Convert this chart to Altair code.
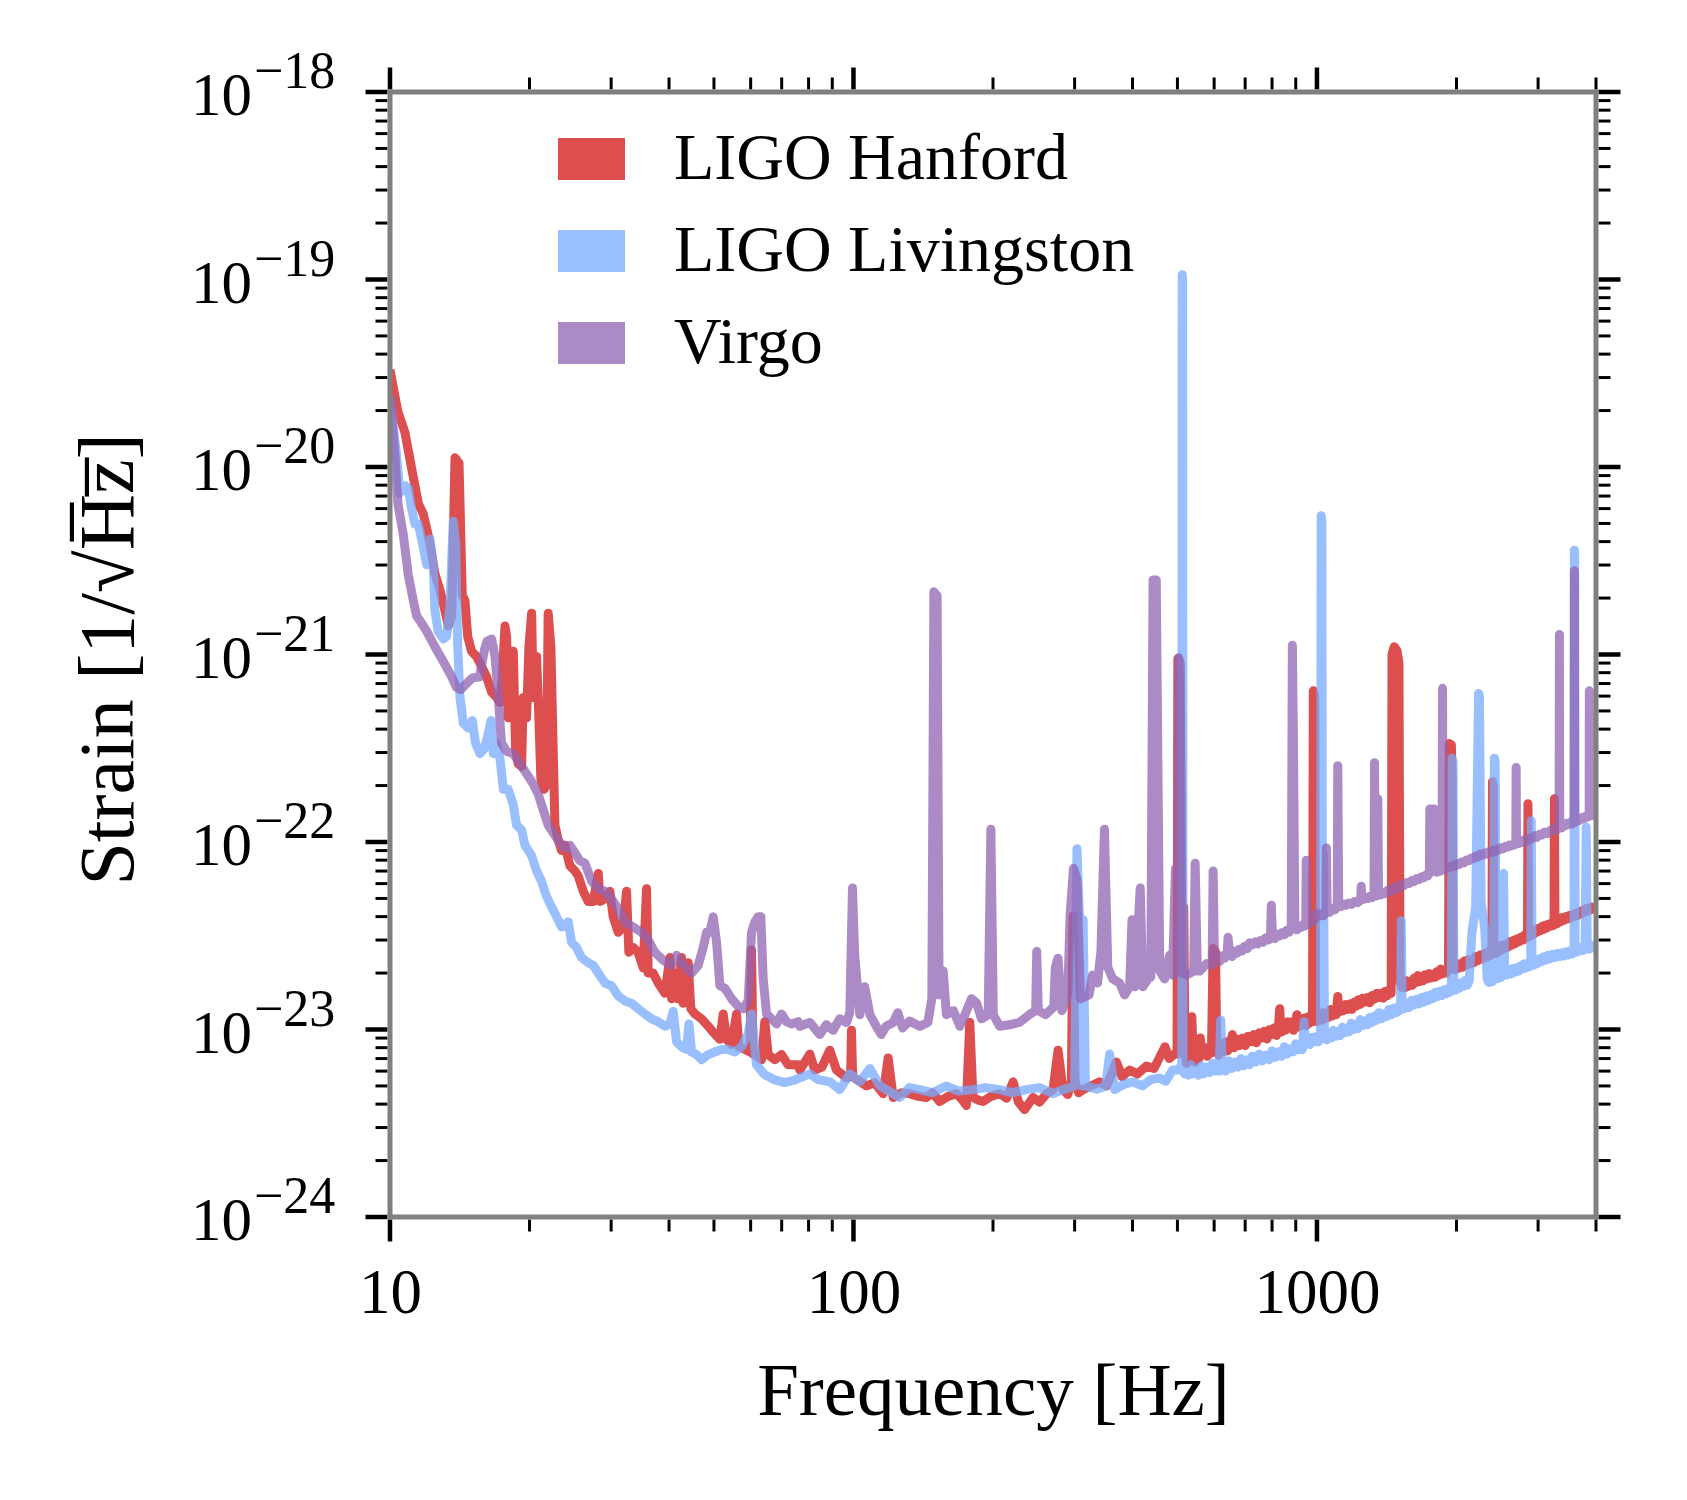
import altair as alt
import pandas as pd

FONT = "Liberation Serif"
W, H = 1206, 1125

SERIES = ["LIGO Hanford", "LIGO Livingston", "Virgo"]
COLORS = ["#d21414", "#77aaff", "#9063b3"]

HANFORD = [
    (10.0, 3.3e-20), (10.4, 1.97e-20), (10.77, 1.53e-20), (11.13, 9.9e-21), (11.51, 6.4e-21),
    (11.8, 5.6e-21), (12.0, 4.7e-21), (12.2, 3.9e-21), (12.5, 2.7e-21), (12.82, 2.2e-21),
    (13.14, 1.71e-21), (13.36, 1.42e-21), (13.59, 1.61e-21), (13.81, 1.12e-20), (14.09, 1.05e-20),
    (14.32, 2.07e-21), (14.51, 1.94e-21), (14.71, 1.25e-21), (15.0, 1.04e-21), (15.38, 9.75e-22),
    (15.77, 8.6e-22), (16.16, 7.6e-22), (16.57, 6.3e-22), (16.99, 5.9e-22), (17.27, 5.55e-22),
    (17.47, 7.6e-22), (17.7, 1.42e-21), (17.85, 1.25e-21), (17.99, 4.6e-22), (18.23, 1.04e-21),
    (18.45, 1.04e-21), (18.66, 3.15e-22), (18.91, 2.61e-22), (19.23, 2.53e-22), (19.38, 5.9e-22),
    (19.71, 4.6e-22), (19.94, 1.1e-21), (20.21, 1.66e-21), (20.37, 5.9e-22), (20.71, 9.75e-22),
    (20.88, 5.9e-22), (21.16, 2.17e-22), (21.51, 1.91e-22), (21.76, 2.04e-22), (21.94, 1.66e-21),
    (22.24, 1.1e-21), (22.69, 1.23e-22), (23.07, 1.02e-22), (23.46, 9.0e-23), (23.85, 9.6e-23),
    (24.44, 7.47e-23), (25.06, 7.02e-23), (25.47, 6.59e-23), (26.12, 5.46e-23), (26.77, 4.82e-23),
    (27.45, 4.82e-23), (28.14, 6.8e-23), (28.37, 4.82e-23), (29.09, 4.97e-23), (29.81, 5.46e-23),
    (30.31, 3.99e-23), (31.07, 3.3e-23), (31.85, 3.52e-23), (32.39, 5.46e-23), (32.76, 2.58e-23),
    (33.47, 2.74e-23), (34.31, 2.58e-23), (35.18, 2.13e-23), (35.77, 5.64e-23), (36.06, 2.0e-23),
    (36.96, 2.0e-23), (37.89, 1.77e-23), (39.19, 1.56e-23), (40.17, 2.42e-23), (40.51, 1.46e-23),
    (41.17, 2.0e-23), (41.73, 1.46e-23), (42.57, 2.42e-23), (42.91, 1.38e-23), (43.99, 2.27e-23),
    (44.58, 1.29e-23), (45.48, 1.21e-23), (47.02, 1.14e-23), (48.59, 1.04e-23), (50.23, 9.45e-24),
    (51.5, 8.87e-24), (52.35, 1.21e-23), (53.23, 8.87e-24), (54.57, 8.33e-24), (55.94, 1.21e-23),
    (56.58, 8.07e-24), (58.29, 7.83e-24), (59.8, 7.6e-24), (60.26, 2.66e-23), (60.7, 7.4e-24),
    (61.26, 7.35e-24), (63.33, 6.9e-24), (64.38, 1.1e-23), (65.44, 7.35e-24), (67.66, 6.9e-24),
    (69.94, 7.35e-24), (72.27, 6.48e-24), (75.95, 6.48e-24), (76.6, 6.08e-24), (80.5, 7.4e-24),
    (82.5, 6.08e-24), (85.5, 6.3e-24), (88.9, 7.76e-24), (91.9, 6.08e-24), (96.6, 5.52e-24),
    (98.6, 5.6e-24), (99.0, 9.9e-24), (99.6, 5.6e-24), (103.0, 5.3e-24), (106.7, 5.0e-24),
    (111.0, 5.2e-24), (115.9, 4.55e-24), (118.8, 7.05e-24), (121.8, 4.34e-24), (127.0, 4.6e-24),
    (132.2, 4.55e-24), (138.0, 4.4e-24), (143.7, 4.34e-24), (148.0, 4.6e-24), (153.5, 4.13e-24),
    (160.0, 4.4e-24), (166.8, 4.55e-24), (172.0, 4.2e-24), (175.2, 3.93e-24), (178.2, 1.09e-23),
    (181.1, 4.34e-24), (186.0, 4.2e-24), (190.4, 4.13e-24), (198.0, 4.4e-24), (206.8, 4.55e-24),
    (214.0, 4.3e-24), (221.0, 5.26e-24), (227.0, 4.1e-24), (234.0, 3.74e-24), (244.0, 4.34e-24),
    (252.0, 4.1e-24), (260.0, 4.5e-24), (269.5, 4.78e-24), (276.3, 7.76e-24), (283.2, 4.78e-24),
    (290.0, 4.5e-24), (295.2, 5.26e-24), (297.7, 4.04e-23), (300.6, 5.26e-24), (306.0, 4.6e-24),
    (312.8, 4.78e-24), (325.0, 5.0e-24), (339.8, 5.26e-24), (352.0, 5.0e-24), (369.1, 6.71e-24),
    (380.0, 5.6e-24), (394.3, 6.08e-24), (410.0, 5.8e-24), (428.3, 6.38e-24), (445.0, 6.2e-24),
    (461.5, 7.4e-24), (470.0, 8.1e-24), (480.0, 7.0e-24), (493.2, 7.4e-24), (499.0, 7.4e-24),
    (501.0, 9.5e-22), (505.0, 7.6e-22), (509.0, 7.5e-24), (516.0, 4.5e-23), (519.0, 7.5e-24),
    (523, 6.6e-24), (528, 7.4e-24), (532, 6.8e-24), (537, 1.17e-23), (541, 7.2e-24), (546, 6.7e-24),
    (552, 7.8e-24), (556, 7.0e-24), (560, 9.0e-24), (566, 7.3e-24), (573, 8.0e-24), (580, 7.2e-24),
    (586, 8.1e-24), (592, 7.5e-24), (597, 2.7e-23), (604, 2.6e-23), (608, 8.0e-24), (614, 7.3e-24),
    (620, 8.2e-24), (627, 7.6e-24), (635, 8.6e-24), (642, 7.7e-24), (650, 8.4e-24), (657, 9.4e-24),
    (663, 8.0e-24), (671, 8.9e-24), (680, 8.2e-24), (690, 9.0e-24), (700, 8.2e-24), (710, 9.2e-24),
    (720, 8.6e-24), (730, 9.4e-24), (740, 8.5e-24), (750, 9.6e-24), (760, 9.0e-24), (770, 9.8e-24),
    (780, 8.9e-24), (790, 1.0e-23), (800, 9.4e-24), (809, 1.02e-23), (818, 9.3e-24), (825, 1.0e-23),
    (831, 1.29e-23), (837, 9.7e-24), (846, 1.07e-23), (855, 9.9e-24), (865, 1.1e-23), (875, 1.02e-23),
    (883, 1.1e-23), (890, 9.9e-24), (898, 1.08e-23), (905, 1.2e-23), (912, 1.03e-23), (921, 1.13e-23),
    (930, 1.06e-23), (940, 1.15e-23), (950, 1.05e-23), (958, 1.17e-23), (965, 1.08e-23),
    (972, 1.16e-23), (978, 1.1e-23), (982, 6.4e-22), (989, 6.0e-22), (993, 1.15e-23), (1000, 1.1e-23),
    (1010, 1.2e-23), (1020, 1.12e-23), (1030, 1.23e-23), (1040, 1.14e-23), (1050, 1.22e-23),
    (1060, 1.16e-23), (1070, 1.28e-23), (1080, 1.18e-23), (1090, 1.27e-23), (1100, 1.2e-23),
    (1109, 1.5e-23), (1116, 1.24e-23), (1128, 1.33e-23), (1140, 1.26e-23), (1152, 1.36e-23),
    (1165, 1.28e-23), (1178, 1.37e-23), (1190, 1.28e-23), (1203, 1.4e-23), (1215, 1.33e-23),
    (1228, 1.44e-23), (1240, 1.36e-23), (1255, 1.47e-23), (1270, 1.4e-23), (1285, 1.48e-23),
    (1300, 1.39e-23), (1315, 1.52e-23), (1330, 1.45e-23), (1345, 1.56e-23), (1360, 1.48e-23),
    (1375, 1.56e-23), (1390, 1.47e-23), (1405, 1.6e-23), (1420, 1.52e-23), (1433, 1.63e-23),
    (1446, 1.56e-23), (1452, 1.0e-21), (1468, 1.1e-21), (1488, 1.05e-21), (1503, 9.0e-22),
    (1511, 1.8e-23), (1523, 1.68e-23), (1535, 1.77e-23), (1548, 1.67e-23), (1560, 1.82e-23),
    (1575, 1.7e-23), (1590, 1.8e-23), (1605, 1.72e-23), (1620, 1.88e-23), (1635, 1.78e-23),
    (1650, 1.94e-23), (1665, 1.8e-23), (1680, 1.9e-23), (1695, 1.82e-23), (1710, 1.96e-23),
    (1728, 1.86e-23), (1745, 1.99e-23), (1762, 1.88e-23), (1780, 1.97e-23), (1798, 1.9e-23),
    (1815, 2.04e-23), (1832, 1.95e-23), (1850, 2.1e-23), (1868, 1.98e-23), (1885, 2.06e-23),
    (1903, 2.0e-23), (1922, 2.12e-23), (1930, 3.35e-22), (1950, 3.3e-22), (1958, 2.2e-22),
    (1966, 2.15e-23), (1983, 2.08e-23), (2000, 2.22e-23), (2020, 2.12e-23), (2040, 2.25e-23),
    (2060, 2.15e-23), (2080, 2.32e-23), (2100, 2.2e-23), (2120, 2.36e-23), (2140, 2.24e-23),
    (2160, 2.34e-23), (2180, 2.27e-23), (2200, 2.45e-23), (2225, 2.33e-23), (2250, 2.5e-23),
    (2275, 2.38e-23), (2300, 2.55e-23), (2322, 2.43e-23), (2345, 2.6e-23), (2365, 2.48e-23),
    (2385, 2.62e-23), (2392, 2.1e-22), (2402, 2.0e-22), (2410, 2.65e-23), (2435, 2.55e-23),
    (2460, 2.74e-23), (2485, 2.63e-23), (2510, 2.82e-23), (2535, 2.7e-23), (2560, 2.85e-23),
    (2585, 2.75e-23), (2610, 2.95e-23), (2635, 2.82e-23), (2660, 3.0e-23), (2685, 2.88e-23),
    (2710, 3.05e-23), (2735, 2.95e-23), (2760, 3.12e-23), (2785, 3.0e-23), (2810, 3.2e-23),
    (2828, 3.08e-23), (2846, 3.22e-23), (2853, 1.6e-22), (2862, 3.25e-23), (2885, 3.15e-23),
    (2910, 3.35e-23), (2935, 3.22e-23), (2960, 3.4e-23), (2985, 3.3e-23), (3010, 3.47e-23),
    (3035, 3.36e-23), (3060, 3.55e-23), (3085, 3.42e-23), (3110, 3.6e-23), (3135, 3.48e-23),
    (3160, 3.65e-23), (3185, 3.55e-23), (3210, 3.7e-23), (3230, 3.58e-23), (3247, 3.72e-23),
    (3254, 1.7e-22), (3262, 3.75e-23), (3290, 3.65e-23), (3320, 3.86e-23), (3350, 3.75e-23),
    (3380, 3.95e-23), (3410, 3.82e-23), (3440, 4.0e-23), (3470, 3.88e-23), (3500, 4.05e-23),
    (3530, 3.94e-23), (3560, 4.1e-23), (3590, 4.0e-23), (3620, 4.17e-23), (3650, 4.06e-23),
    (3680, 4.25e-23), (3710, 4.14e-23), (3740, 4.32e-23), (3770, 4.22e-23), (3800, 4.4e-23),
    (3830, 4.28e-23), (3860, 4.45e-23), (3890, 4.34e-23), (3920, 4.5e-23), (3960, 4.4e-23),
    (4000, 4.55e-23),
]

LIVINGSTON = [
    (10.0, 2.3e-20), (10.32, 1.19e-20), (10.5, 7.24e-21), (10.77, 7.96e-21), (10.95, 7.71e-21),
    (11.13, 6.0e-21), (11.32, 4.97e-21), (11.51, 4.97e-21), (11.7, 4.12e-21), (12.0, 3.01e-21),
    (12.2, 4.12e-21), (12.4, 3.01e-21), (12.5, 1.71e-21), (12.7, 1.33e-21), (13.04, 1.21e-21),
    (13.25, 1.25e-21), (13.47, 1.82e-21), (13.69, 5.13e-21), (13.86, 3.87e-21), (14.0, 1.1e-21),
    (14.16, 5.9e-22), (14.39, 4.31e-22), (14.75, 4.05e-22), (15.05, 4.45e-22), (15.3, 3.36e-22),
    (15.64, 2.96e-22), (15.98, 3.15e-22), (16.3, 3.81e-22), (16.52, 4.45e-22), (16.71, 2.96e-22),
    (16.99, 3.36e-22), (17.27, 2.78e-22), (17.56, 1.91e-22), (17.99, 1.91e-22), (18.45, 1.58e-22),
    (18.75, 1.23e-22), (19.23, 1.16e-22), (19.55, 9.6e-23), (20.21, 8.46e-23), (20.71, 7.02e-23),
    (21.22, 6.19e-23), (21.76, 5.13e-23), (22.3, 4.53e-23), (22.88, 3.99e-23), (23.46, 3.52e-23),
    (24.24, 3.75e-23), (24.65, 2.92e-23), (25.26, 2.74e-23), (25.9, 2.42e-23), (26.77, 2.27e-23),
    (27.45, 2.2e-23), (28.14, 2.0e-23), (29.09, 1.77e-23), (30.06, 1.71e-23), (31.07, 1.51e-23),
    (32.12, 1.42e-23), (33.2, 1.38e-23), (34.31, 1.29e-23), (35.47, 1.21e-23), (36.67, 1.14e-23),
    (37.89, 1.1e-23), (39.19, 1.04e-23), (40.17, 1.07e-23), (40.83, 1.25e-23), (41.53, 8.6e-24),
    (42.57, 8.07e-24), (43.64, 7.83e-24), (44.15, 1.07e-23), (44.74, 7.59e-24), (45.86, 7.35e-24),
    (47.02, 6.9e-24), (48.59, 7.35e-24), (50.23, 7.59e-24), (51.9, 7.83e-24), (53.66, 7.83e-24),
    (55.47, 7.59e-24), (57.35, 8.07e-24), (59.26, 9.45e-24), (60.26, 1.21e-23), (61.77, 6.48e-24),
    (64.38, 5.73e-24), (67.66, 5.38e-24), (71.1, 5.21e-24), (74.7, 5.38e-24), (76.6, 5.52e-24),
    (80.5, 5.8e-24), (84.0, 5.4e-24), (88.9, 5.26e-24), (93.4, 4.78e-24), (98.2, 5.8e-24),
    (103.2, 5.26e-24), (108.5, 6.2e-24), (114.0, 5.0e-24), (119.0, 4.7e-24), (125.9, 4.34e-24),
    (132.0, 4.9e-24), (139.0, 4.78e-24), (148.0, 4.6e-24), (158.5, 5.0e-24), (168.0, 4.7e-24),
    (181.0, 4.78e-24), (193.0, 4.9e-24), (206.8, 4.78e-24), (220.0, 4.6e-24), (236.0, 4.78e-24),
    (252.0, 4.9e-24), (269.5, 4.55e-24), (285.0, 4.8e-24), (300.0, 5.0e-24), (303.5, 9.2e-23),
    (307.5, 3.85e-23), (311.0, 5.0e-24), (313.0, 3.85e-23), (316.5, 5.0e-24), (335.0, 4.8e-24),
    (350.0, 5.0e-24), (357.0, 7.4e-24), (366.0, 4.78e-24), (383.0, 5.1e-24), (401.0, 5.26e-24),
    (420.0, 5.0e-24), (438.0, 5.4e-24), (457.0, 5.52e-24), (472.0, 5.3e-24), (488.0, 6.08e-24),
    (502.0, 6.08e-24), (511.0, 6.5e-24), (512.0, 1.06e-19), (513.0, 1.0e-19), (514.0, 6.5e-24),
    (518, 5.8e-24), (522, 6.4e-24), (528, 5.7e-24), (535, 6.5e-24), (541, 5.8e-24), (548, 6.2e-24),
    (555, 5.7e-24), (562, 6.4e-24), (570, 5.8e-24), (578, 6.3e-24), (586, 5.9e-24), (595, 6.6e-24),
    (602, 6.0e-24), (610, 6.5e-24), (615, 6.0e-24), (620, 1.12e-23), (625, 6.4e-24), (635, 6.0e-24),
    (645, 6.8e-24), (655, 6.2e-24), (665, 6.7e-24), (675, 6.3e-24), (685, 7.0e-24), (695, 6.4e-24),
    (705, 6.9e-24), (715, 6.5e-24), (725, 7.2e-24), (738, 6.7e-24), (750, 7.4e-24), (762, 6.8e-24),
    (775, 7.3e-24), (788, 6.9e-24), (800, 7.7e-24), (812, 7.1e-24), (825, 7.6e-24), (838, 7.2e-24),
    (850, 8.1e-24), (862, 7.4e-24), (875, 7.9e-24), (888, 7.6e-24), (900, 8.4e-24), (910, 7.8e-24),
    (920, 8.3e-24), (930, 7.8e-24), (938, 1.1e-23), (945, 8.3e-24), (955, 8.9e-24), (965, 8.3e-24),
    (978, 9.1e-24), (990, 8.6e-24), (1000, 9.2e-24), (1008, 8.6e-24), (1018, 9.2e-24),
    (1021, 5.5e-21), (1025, 5.2e-21), (1028, 9.3e-24), (1033, 8.5e-23), (1038, 9.2e-24),
    (1049, 8.8e-24), (1060, 9.6e-24), (1072, 9.0e-24), (1085, 9.9e-24), (1098, 9.2e-24),
    (1110, 9.8e-24), (1122, 9.3e-24), (1135, 1.03e-23), (1148, 9.6e-24), (1160, 1.01e-23),
    (1172, 9.7e-24), (1185, 1.08e-23), (1198, 1.0e-23), (1210, 1.06e-23), (1225, 1.01e-23),
    (1240, 1.13e-23), (1255, 1.05e-23), (1270, 1.11e-23), (1285, 1.06e-23), (1300, 1.16e-23),
    (1315, 1.09e-23), (1330, 1.18e-23), (1345, 1.12e-23), (1360, 1.23e-23), (1378, 1.14e-23),
    (1395, 1.21e-23), (1412, 1.17e-23), (1430, 1.28e-23), (1448, 1.2e-23), (1465, 1.3e-23),
    (1482, 1.23e-23), (1500, 1.33e-23), (1508, 1.26e-23), (1515, 1.32e-23), (1520, 3.8e-23),
    (1527, 1.35e-23), (1543, 1.29e-23), (1560, 1.39e-23), (1580, 1.31e-23), (1600, 1.43e-23),
    (1620, 1.35e-23), (1640, 1.45e-23), (1660, 1.37e-23), (1680, 1.48e-23), (1700, 1.4e-23),
    (1720, 1.51e-23), (1740, 1.43e-23), (1760, 1.53e-23), (1780, 1.46e-23), (1800, 1.58e-23),
    (1820, 1.5e-23), (1840, 1.6e-23), (1860, 1.52e-23), (1880, 1.63e-23), (1900, 1.55e-23),
    (1920, 1.66e-23), (1935, 1.58e-23), (1950, 1.65e-23), (1956, 2.8e-22), (1966, 2.7e-22),
    (1974, 1.7e-23), (1992, 1.62e-23), (2010, 1.75e-23), (2030, 1.66e-23), (2050, 1.78e-23),
    (2070, 1.7e-23), (2090, 1.83e-23), (2110, 1.72e-23), (2130, 1.82e-23), (2160, 3.3e-23),
    (2200, 4.5e-23), (2232, 6.2e-22), (2242, 6.0e-22), (2260, 4.8e-23), (2300, 3.5e-23),
    (2330, 1.85e-23), (2350, 1.78e-23), (2370, 1.9e-23), (2390, 1.8e-23), (2408, 1.92e-23),
    (2414, 2.8e-22), (2424, 2.7e-22), (2432, 1.95e-23), (2456, 1.87e-23), (2480, 2.01e-23),
    (2500, 1.9e-23), (2520, 2.02e-23), (2527, 6.8e-23), (2540, 2.0e-23), (2570, 1.95e-23),
    (2600, 2.09e-23), (2625, 1.98e-23), (2650, 2.12e-23), (2675, 2.02e-23), (2700, 2.14e-23),
    (2725, 2.05e-23), (2750, 2.19e-23), (2775, 2.1e-23), (2800, 2.24e-23), (2825, 2.13e-23),
    (2850, 2.26e-23), (2872, 2.16e-23), (2893, 2.26e-23), (2900, 1.3e-22), (2910, 2.3e-23),
    (2935, 2.2e-23), (2960, 2.36e-23), (2990, 2.25e-23), (3020, 2.39e-23), (3050, 2.3e-23),
    (3080, 2.44e-23), (3115, 2.34e-23), (3150, 2.49e-23), (3185, 2.38e-23), (3220, 2.52e-23),
    (3260, 2.42e-23), (3300, 2.55e-23), (3340, 2.45e-23), (3380, 2.57e-23), (3415, 2.47e-23),
    (3450, 2.6e-23), (3485, 2.5e-23), (3520, 2.63e-23), (3553, 2.53e-23), (3586, 2.62e-23),
    (3592, 3.6e-21), (3598, 3.4e-21), (3605, 2.65e-23), (3632, 2.58e-23), (3660, 2.72e-23),
    (3690, 2.62e-23), (3720, 2.75e-23), (3755, 2.64e-23), (3790, 2.76e-23), (3810, 1.2e-22),
    (3830, 2.75e-23), (3865, 2.68e-23), (3900, 2.82e-23), (3950, 2.72e-23), (4000, 2.85e-23),
]

VIRGO = [
    (10.0, 2.4e-20), (10.24, 1.19e-20), (10.4, 6.38e-21), (10.68, 4.38e-21), (10.95, 2.66e-21),
    (11.23, 1.94e-21), (11.41, 1.61e-21), (11.7, 1.47e-21), (12.0, 1.33e-21), (12.5, 1.1e-21),
    (13.04, 9.16e-22), (13.59, 7.6e-22), (13.9, 6.7e-22), (14.2, 6.49e-22), (14.55, 6.91e-22),
    (15.05, 7.5e-22), (15.6, 7.6e-22), (16.0, 1.07e-21), (16.2, 1.18e-21), (16.57, 1.21e-21),
    (16.85, 9.75e-22), (17.13, 5.9e-22), (17.4, 3.36e-22), (17.85, 3.05e-22), (18.45, 2.96e-22),
    (19.07, 2.61e-22), (19.71, 2.31e-22), (20.37, 2.04e-22), (20.88, 1.8e-22), (21.4, 1.49e-22),
    (21.94, 1.23e-22), (22.5, 1.12e-22), (23.07, 1.02e-22), (23.85, 9.3e-23), (24.44, 9.6e-23),
    (25.06, 8.73e-23), (25.69, 7.95e-23), (26.34, 7.7e-23), (27.23, 6.19e-23), (28.14, 5.64e-23),
    (29.09, 5.46e-23), (30.06, 4.97e-23), (31.07, 4.39e-23), (32.12, 3.75e-23), (33.47, 3.52e-23),
    (34.89, 3.3e-23), (36.06, 3.01e-23), (37.27, 2.58e-23), (38.86, 2.34e-23), (40.51, 2.2e-23),
    (41.53, 2.49e-23), (42.57, 2.27e-23), (43.64, 2.13e-23), (44.74, 2.0e-23), (46.24, 2.2e-23),
    (47.4, 2.74e-23), (48.2, 3.3e-23), (49.0, 3.3e-23), (49.81, 3.99e-23), (50.66, 2.92e-23),
    (51.5, 1.71e-23), (52.79, 1.66e-23), (54.57, 1.46e-23), (56.38, 1.33e-23), (57.8, 1.29e-23),
    (59.26, 1.42e-23), (60.26, 3.3e-23), (61.26, 3.75e-23), (62.27, 3.99e-23), (63.11, 3.99e-23),
    (63.84, 1.88e-23), (64.93, 1.21e-23), (66.56, 1.14e-23), (68.22, 1.07e-23), (69.94, 1.21e-23),
    (71.7, 1.1e-23), (73.5, 1.07e-23), (75.95, 1.1e-23),
    (76.6, 1.04e-23), (80.5, 1.09e-23), (84.6, 9.4e-24), (87.4, 1.06e-23), (90.4, 9.9e-24),
    (93.4, 1.14e-23), (96.6, 1.09e-23), (98.2, 1.23e-23), (99.5, 5.68e-23), (100.6, 2.49e-23),
    (103.2, 1.2e-23), (105.7, 1.69e-23), (108.5, 1.2e-23), (112.0, 1.04e-23), (114.8, 9.4e-24),
    (117.6, 1.04e-23), (121.8, 1.09e-23), (124.6, 1.23e-23), (127.6, 1.02e-23), (132.2, 1.11e-23),
    (138.9, 1.04e-23), (144.7, 1.09e-23), (147.6, 1.46e-23), (149.1, 2.16e-21), (151.5, 2.06e-21),
    (153.0, 1.53e-23), (156.1, 2.05e-23), (158.7, 1.2e-23), (164.3, 1.26e-23), (169.7, 1.04e-23),
    (174.0, 1.2e-23), (179.7, 1.46e-23), (184.2, 1.39e-23), (188.9, 1.14e-23), (195.3, 1.2e-23),
    (197.9, 1.17e-22), (200.3, 1.2e-23), (206.8, 1.04e-23), (217.0, 1.06e-23), (228.0, 1.09e-23),
    (239.4, 1.2e-23), (247.3, 1.26e-23), (248.5, 2.61e-23), (250.5, 1.26e-23), (259.6, 1.2e-23),
    (270.5, 1.32e-23), (272.6, 2.15e-23), (276.2, 2.4e-23), (281.6, 1.26e-23), (290.0, 1.53e-23),
    (293.3, 4.04e-23), (298.3, 7.24e-23), (303.5, 6.3e-23), (308.8, 1.46e-23), (322.3, 1.53e-23),
    (328.0, 1.95e-23), (336.2, 1.77e-23), (341.9, 2.61e-23), (347.9, 1.17e-22), (353.7, 2.15e-23),
    (362.7, 1.86e-23), (375.2, 1.77e-23), (384.7, 1.53e-23), (394.3, 1.69e-23), (399.0, 3.85e-23),
    (404.4, 1.69e-23), (415.6, 5.68e-23), (421.0, 1.69e-23), (431.7, 1.86e-23), (438.0, 1.9e-23),
    (443.0, 2.5e-21), (450.0, 2.5e-21), (458.0, 2.05e-23), (469.0, 1.86e-23), (481.0, 2.49e-23),
    (488.0, 1.95e-23), (495.0, 7.2e-23), (500.0, 2.0e-23), (503.0, 9.6e-22), (507.0, 9.0e-22),
    (512.0, 2.0e-23), (523.0, 1.95e-23), (542.0, 2.05e-23), (546.0, 7.7e-23), (552.0, 2.05e-23),
    (559.0, 2.05e-23), (578.0, 2.25e-23), (594.0, 2.2e-23), (597.0, 7.0e-23), (601.0, 2.3e-23),
    (607, 2.37e-23), (616, 2.3e-23), (625, 2.47e-23), (632, 2.4e-23), (640, 2.52e-23),
    (643, 3.1e-23), (648, 2.5e-23), (656, 2.45e-23), (665, 2.62e-23), (672, 2.55e-23),
    (680, 2.68e-23), (689, 2.62e-23), (698, 2.78e-23), (707, 2.7e-23), (716, 2.9e-23),
    (725, 2.82e-23), (735, 2.93e-23), (745, 2.86e-23), (755, 2.98e-23), (765, 2.92e-23),
    (775, 3.08e-23), (785, 3.0e-23), (794, 3.12e-23), (797, 4.6e-23), (802, 3.1e-23),
    (811, 3.05e-23), (820, 3.22e-23), (830, 3.15e-23), (840, 3.28e-23), (850, 3.2e-23),
    (860, 3.38e-23), (870, 3.3e-23), (880, 3.42e-23), (885, 1.12e-21), (890, 3.3e-22),
    (896, 3.45e-23), (905, 3.4e-23), (915, 3.58e-23), (924, 3.5e-23), (932, 3.62e-23),
    (940, 3.56e-23), (946, 3.66e-23), (948, 8.0e-23), (952, 3.7e-23), (961, 3.65e-23),
    (970, 3.88e-23), (983, 3.8e-23), (996, 4.15e-23), (1008, 4.0e-23), (1020, 4.12e-23),
    (1033, 4.05e-23), (1045, 4.22e-23), (1048, 9.3e-23), (1052, 4.3e-23), (1066, 4.22e-23),
    (1080, 4.42e-23), (1093, 4.35e-23), (1106, 4.5e-23), (1109, 2.55e-22), (1114, 4.6e-23),
    (1127, 4.52e-23), (1140, 4.68e-23), (1155, 4.6e-23), (1170, 4.72e-23), (1188, 4.65e-23),
    (1205, 4.82e-23), (1224, 4.75e-23), (1243, 4.92e-23), (1246, 5.8e-23), (1250, 5.0e-23),
    (1262, 4.95e-23), (1275, 5.08e-23), (1288, 5.0e-23), (1300, 5.13e-23), (1314, 5.05e-23),
    (1328, 5.22e-23), (1331, 2.65e-22), (1336, 5.2e-23), (1343, 5.15e-23), (1350, 5.26e-23),
    (1353, 1.7e-22), (1358, 5.3e-23), (1372, 5.22e-23), (1387, 5.38e-23), (1403, 5.3e-23),
    (1420, 5.52e-23), (1435, 5.45e-23), (1450, 5.62e-23), (1468, 5.55e-23), (1485, 5.78e-23),
    (1502, 5.7e-23), (1520, 5.92e-23), (1540, 5.85e-23), (1560, 6.08e-23), (1580, 6.0e-23),
    (1600, 6.22e-23), (1620, 6.15e-23), (1640, 6.38e-23), (1660, 6.3e-23), (1680, 6.52e-23),
    (1700, 6.45e-23), (1720, 6.68e-23), (1734, 6.6e-23), (1748, 6.8e-23), (1752, 1.5e-22),
    (1790, 1.5e-22), (1795, 7.0e-23), (1812, 6.9e-23), (1830, 7.05e-23), (1846, 6.98e-23),
    (1862, 7.12e-23), (1866, 6.6e-22), (1872, 7.2e-23), (1886, 7.12e-23), (1900, 7.32e-23),
    (1915, 7.25e-23), (1930, 7.42e-23), (1950, 7.35e-23), (1970, 7.52e-23), (1990, 7.45e-23),
    (2010, 7.68e-23), (2030, 7.6e-23), (2050, 7.82e-23), (2075, 7.75e-23), (2100, 8.02e-23),
    (2125, 7.95e-23), (2150, 8.22e-23), (2175, 8.15e-23), (2200, 8.42e-23), (2225, 8.33e-23),
    (2250, 8.62e-23), (2275, 8.5e-23), (2300, 8.72e-23), (2325, 8.62e-23), (2350, 8.88e-23),
    (2375, 8.8e-23), (2400, 9.02e-23), (2425, 8.92e-23), (2450, 9.18e-23), (2475, 9.08e-23),
    (2500, 9.32e-23), (2525, 9.22e-23), (2550, 9.48e-23), (2575, 9.38e-23), (2600, 9.62e-23),
    (2625, 9.52e-23), (2650, 9.72e-23), (2668, 9.65e-23), (2686, 9.82e-23), (2690, 2.5e-22),
    (2695, 9.9e-23), (2722, 9.8e-23), (2750, 1.01e-22), (2775, 9.95e-23), (2800, 1.03e-22),
    (2835, 1.01e-22), (2870, 1.05e-22), (2910, 1.04e-22), (2950, 1.08e-22), (2985, 1.06e-22),
    (3020, 1.1e-22), (3060, 1.09e-22), (3100, 1.13e-22), (3140, 1.11e-22), (3180, 1.15e-22),
    (3215, 1.14e-22), (3250, 1.18e-22), (3290, 1.16e-22), (3330, 1.2e-22), (3335, 1.28e-21),
    (3341, 1.2e-22), (3370, 1.19e-22), (3400, 1.24e-22), (3430, 1.22e-22), (3460, 1.26e-22),
    (3490, 1.24e-22), (3520, 1.27e-22), (3555, 1.25e-22), (3588, 1.29e-22), (3593, 2.8e-21),
    (3599, 1.3e-22), (3625, 1.28e-22), (3650, 1.32e-22), (3675, 1.3e-22), (3700, 1.34e-22),
    (3730, 1.32e-22), (3760, 1.36e-22), (3790, 1.34e-22), (3820, 1.38e-22), (3843, 1.36e-22),
    (3866, 1.39e-22), (3870, 6.4e-22), (3876, 1.4e-22), (3905, 1.38e-22), (3940, 1.42e-22),
    (3970, 1.4e-22), (4000, 1.43e-22),
]

X_MAJOR = [10, 100, 1000]
X_MINOR = [20, 30, 40, 50, 60, 70, 80, 90, 200, 300, 400, 500, 600, 700, 800, 900, 2000, 3000, 4000]
Y_MAJOR = [1e-18, 1e-19, 1e-20, 1e-21, 1e-22, 1e-23, 1e-24]
Y_EXP = ["\u221218", "\u221219", "\u221220", "\u221221", "\u221222", "\u221223", "\u221224"]
Y_MINOR = [k * 10.0 ** e for e in range(-24, -18) for k in range(2, 10)]

rows = []
for name, pts in zip(SERIES, [HANFORD, LIVINGSTON, VIRGO]):
    for f, a in pts:
        rows.append({"series": name, "freq": f, "asd": a})
df = pd.DataFrame(rows)

xscale = alt.Scale(type="log", domain=[10, 4000], nice=False)
yscale = alt.Scale(type="log", domain=[1e-24, 1e-18], nice=False)

xaxis = alt.Axis(values=X_MAJOR, format="d", labelFont=FONT, labelFontSize=63, labelColor="black",
                 labelPadding=95, labelBaseline="alphabetic", labelFlush=False, labelOverlap=False,
                 ticks=False, tickSize=0, domain=False, grid=False,
                 title="Frequency [Hz]", titleFont=FONT, titleFontSize=75, titleFontWeight="normal",
                 titleColor="black", titleY=197, titleBaseline="alphabetic")
yaxis = alt.Axis(labels=False, ticks=False, tickSize=0, domain=False, grid=False,
                 title="Strain [1/\u221aH\u0305z\u0305]", titleFont=FONT, titleFontSize=78,
                 titleFontWeight="normal", titleColor="black", titleAngle=270, titleX=-258,
                 titleY=567, titleBaseline="alphabetic", titleAlign="center")

X = lambda: alt.X("freq:Q", scale=xscale, axis=xaxis)
Y = lambda: alt.Y("asd:Q", scale=yscale, axis=yaxis)

lines = alt.Chart(df).mark_line(strokeWidth=9, opacity=0.75, strokeJoin="round", clip=True).encode(
    x=X(), y=Y(),
    color=alt.Color("series:N", scale=alt.Scale(domain=SERIES, range=COLORS),
                    legend=alt.Legend(orient="none", legendX=147, legendY=35, title=None,
                                      labelFont=FONT, labelFontSize=66, labelColor="black",
                                      symbolType="stroke", symbolSize=4489, symbolStrokeWidth=42,
                                      symbolOpacity=0.75, labelOffset=28, rowPadding=26, padding=0,
                                      clipHeight=64, labelLimit=0)),
)

xt_major = pd.DataFrame({"freq": X_MAJOR})
xt_minor = pd.DataFrame({"freq": X_MINOR})
yt_major = pd.DataFrame({"asd": Y_MAJOR})
yt_minor = pd.DataFrame({"asd": Y_MINOR})


def xticks(data, length, width):
    out = []
    for y0, y1 in [(H + 2.5, H + 2.5 + length), (-2.5, -2.5 - length)]:
        out.append(alt.Chart(data).mark_rule(color="black", strokeWidth=width).encode(
            x=X(), y=alt.value(y0), y2=alt.value(y1)))
    return out


def yticks(data, length, width):
    out = []
    for x0, x1 in [(-2.5, -2.5 - length), (W + 2.5, W + 2.5 + length)]:
        out.append(alt.Chart(data).mark_rule(color="black", strokeWidth=width).encode(
            y=Y(), x=alt.value(x0), x2=alt.value(x1)))
    return out


ticks = xticks(xt_major, 22, 4.5) + xticks(xt_minor, 12, 3) + yticks(yt_major, 22, 4.5) + yticks(yt_minor, 12, 3)

ylab_df = pd.DataFrame({"asd": Y_MAJOR, "base": ["10"] * len(Y_MAJOR), "exp": Y_EXP})
ylab_base = alt.Chart(ylab_df).mark_text(font=FONT, fontSize=61, align="right", baseline="alphabetic",
                                         dy=23, color="black").encode(
    y=Y(), x=alt.value(-138), text="base:N")
ylab_exp = alt.Chart(ylab_df).mark_text(font=FONT, fontSize=52, align="left", baseline="alphabetic",
                                        dy=-4, color="black").encode(
    y=Y(), x=alt.value(-136), text="exp:N")

one = pd.DataFrame({"k": [0]})
frame_color = "#808080"
frame = [
    alt.Chart(one).mark_rule(color=frame_color, strokeWidth=5).encode(
        x=alt.value(0), y=alt.value(-2.5), y2=alt.value(H + 2.5)),
    alt.Chart(one).mark_rule(color=frame_color, strokeWidth=5).encode(
        x=alt.value(W), y=alt.value(-2.5), y2=alt.value(H + 2.5)),
    alt.Chart(one).mark_rule(color=frame_color, strokeWidth=5).encode(
        y=alt.value(0), x=alt.value(-2.5), x2=alt.value(W + 2.5)),
    alt.Chart(one).mark_rule(color=frame_color, strokeWidth=5).encode(
        y=alt.value(H), x=alt.value(-2.5), x2=alt.value(W + 2.5)),
]

chart = alt.layer(lines, *ticks, ylab_base, ylab_exp, *frame).properties(
    width=W, height=H,
    autosize=alt.AutoSizeParams(type="none"),
    padding={"left": 390, "top": 92, "right": 91, "bottom": 283},
    background="white",
).configure_view(stroke=None).configure(font=FONT)

chart.save("out.html", embed_options={"renderer": "svg", "actions": False})
